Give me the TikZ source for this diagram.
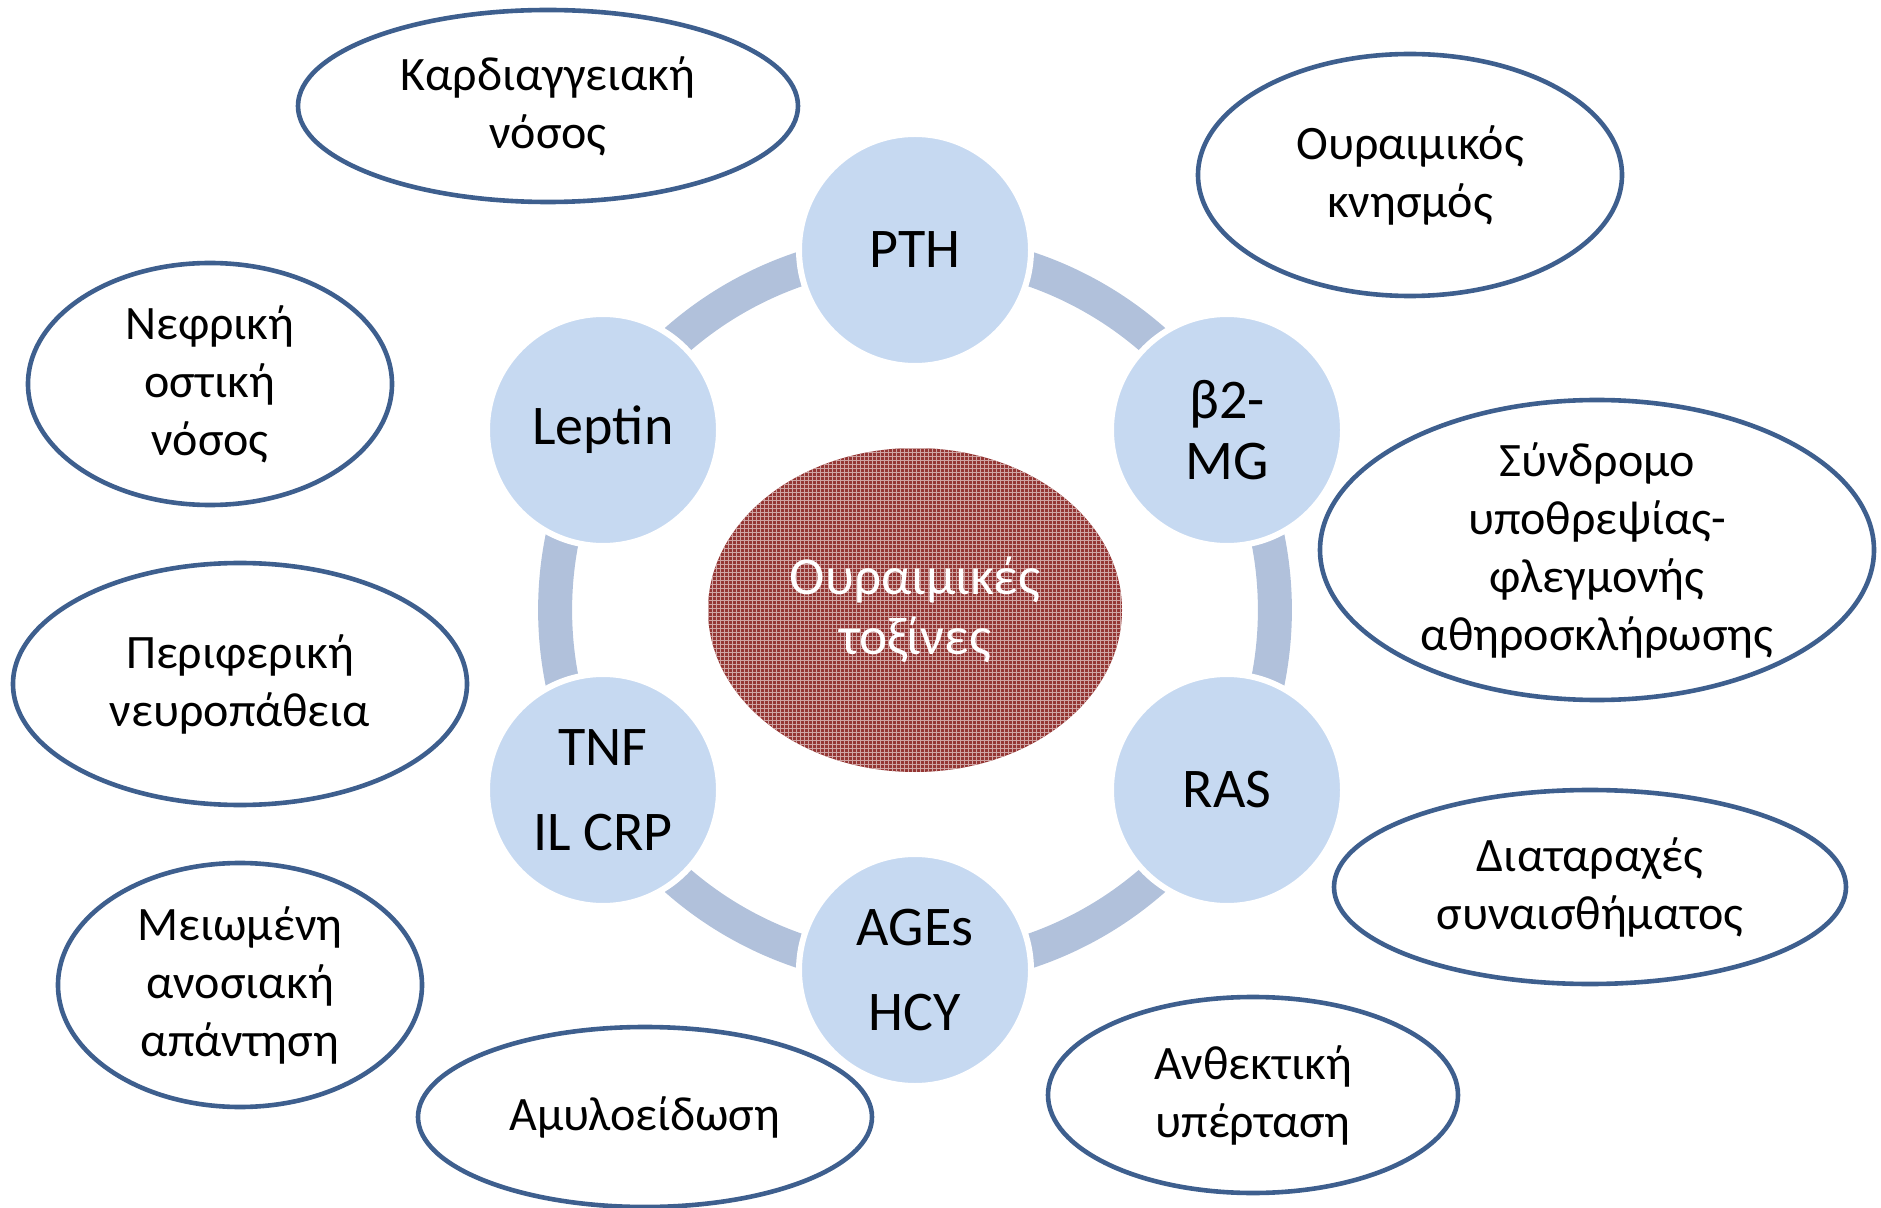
\documentclass[tikz,border=0pt]{standalone}
\usepackage{fontspec}
\setmainfont{Carlito}
\usepackage{tikz}
\usetikzlibrary{shapes.geometric}
\usetikzlibrary{patterns.meta}
\usetikzlibrary{backgrounds}

\definecolor{ringblue}{HTML}{C6D9F1}
\definecolor{arcblue}{HTML}{B1C1DB}
\definecolor{edgeblue}{HTML}{3E5F8E}
\definecolor{toxred}{HTML}{943634}

\begin{document}
\begin{tikzpicture}[x=0.5pt, y=-0.5pt,
		marker/.style={circle, fill=ringblue, draw=white, line width=3pt,
			minimum size=116pt, inner sep=0pt, align=center,
			font=\fontsize{28}{30.5}\selectfont},
		effect/.style={ellipse, draw=edgeblue, line width=2.3pt, inner sep=-3pt,
			align=center, font=\fontsize{24}{29}\selectfont},
		link/.style={draw=arcblue, line width=17pt, bend left=30, looseness=0.91}]
		\useasboundingbox (0,0) rectangle (1881,1208);
		% centre
		\node [ellipse, minimum width=207pt, minimum height=162pt, inner sep=0pt,
				preaction={fill=toxred},
				pattern={Hatch[distance=2pt, line width=0.35pt]},
				pattern color=white!55!toxred,
				text=white, align=center,
				font=\fontsize{26.7}{30}\selectfont] (toxins) at (915,610) {Ουραιμικές\\τοξίνες};
		% ring
		\node [marker] (pth) at (915,250) {PTH};
		\node [marker] (b2mg) at (1227,430) {β2-\\MG};
		\node [marker] (ras) at (1227,790) {RAS};
		\node [marker] (ages) at (915,970) {AGEs\\[12pt]HCY};
		\node [marker] (tnf) at (603,790) {TNF\\[12pt]IL CRP};
		\node [marker] (leptin) at (603,430) {Leptin};
		\begin{scope}[on background layer]
			\path
				(pth.center) edge [link] (b2mg.center)
				(b2mg.center) edge [link] (ras.center)
				(ras.center) edge [link] (ages.center)
				(ages.center) edge [link] (tnf.center)
				(tnf.center) edge [link] (leptin.center)
				(leptin.center) edge [link] (pth.center);
		\end{scope}
		% outcomes
		\node [effect, minimum width=250pt, minimum height=96pt] (cardio) at (548,106) {Καρδιαγγειακή\\νόσος};
		\node [effect, minimum width=212pt, minimum height=121pt] (pruritus) at (1410,175) {Ουραιμικός\\κνησμός};
		\node [effect, minimum width=182pt, minimum height=121pt] (bone) at (210,384) {Νεφρική\\οστική\\νόσος};
		\node [effect, minimum width=277pt, minimum height=150pt] (mia) at (1597,550) {Σύνδρομο\\υποθρεψίας-\\φλεγμονής\\αθηροσκλήρωσης};
		\node [effect, minimum width=227pt, minimum height=121pt] (neuro) at (240,684) {Περιφερική\\νευροπάθεια};
		\node [effect, minimum width=256pt, minimum height=97pt] (mood) at (1590,887) {Διαταραχές\\συναισθήματος};
		\node [effect, minimum width=182pt, minimum height=122pt] (immune) at (240,985) {Μειωμένη\\ανοσιακή\\απάντηση};
		\node [effect, minimum width=227pt, minimum height=90pt] (amyloid) at (645,1117) {Αμυλοείδωση};
		\node [effect, minimum width=205pt, minimum height=98pt] (hyper) at (1253,1095) {Ανθεκτική\\υπέρταση};
	\end{tikzpicture}
\end{document}
